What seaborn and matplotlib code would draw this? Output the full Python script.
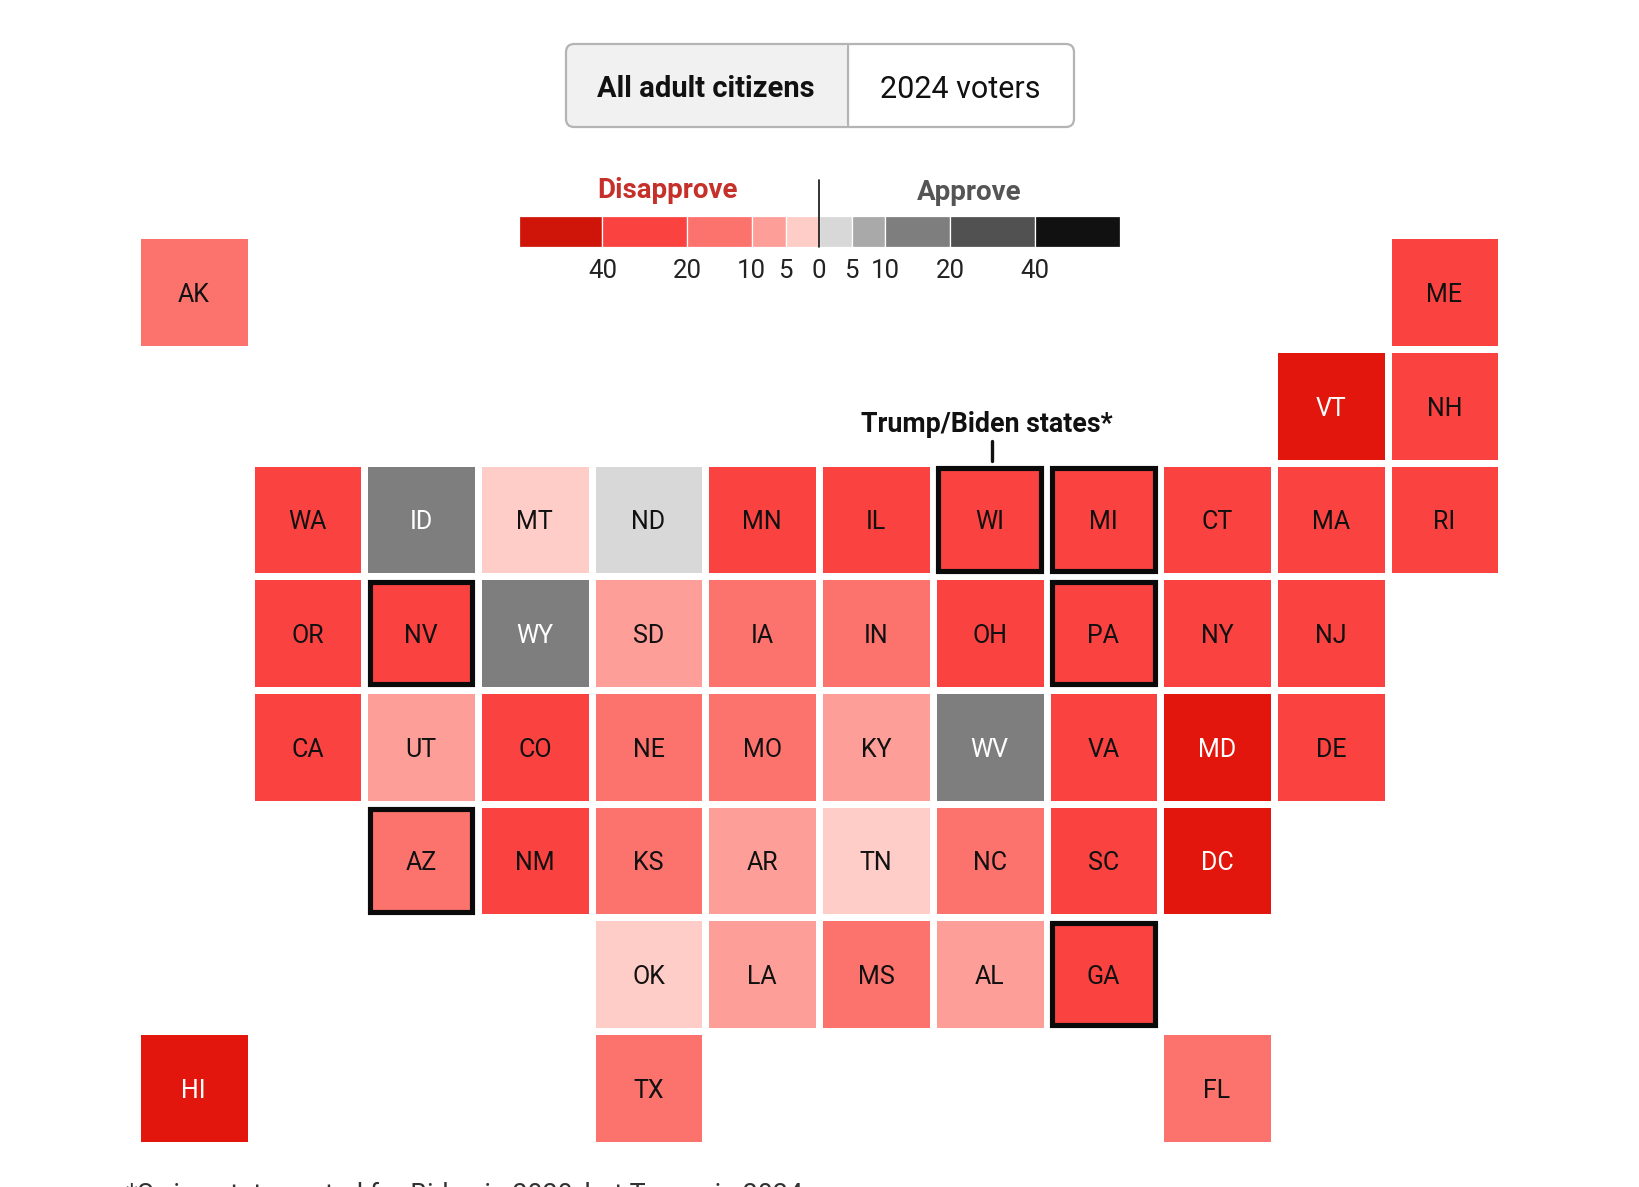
import numpy as np
import pandas as pd
import seaborn as sns
import matplotlib
matplotlib.use("Agg")
import matplotlib.pyplot as plt
from matplotlib.colors import ListedColormap, BoundaryNorm
from matplotlib.patches import FancyBboxPatch, Rectangle
from matplotlib.ticker import NullLocator

W, H = 1640, 1187
sns.set_theme(style="white")
plt.rcParams["font.family"] = ["Roboto", "DejaVu Sans"]

rows = [
    ["AK", "", "", "", "", "", "", "", "", "", "", "ME"],
    ["", "", "", "", "", "", "", "", "", "", "VT", "NH"],
    ["", "WA", "ID", "MT", "ND", "MN", "IL", "WI", "MI", "CT", "MA", "RI"],
    ["", "OR", "NV", "WY", "SD", "IA", "IN", "OH", "PA", "NY", "NJ", ""],
    ["", "CA", "UT", "CO", "NE", "MO", "KY", "WV", "VA", "MD", "DE", ""],
    ["", "", "AZ", "NM", "KS", "AR", "TN", "NC", "SC", "DC", "", ""],
    ["", "", "", "", "OK", "LA", "MS", "AL", "GA", "", "", ""],
    ["HI", "", "", "", "TX", "", "", "", "", "FL", "", ""],
]
# net approval per state, estimated from its colour bin
dis_over_40 = ["VT", "MD", "DC", "HI"]
dis_20_40 = ["ME", "NH", "WA", "MN", "IL", "WI", "MI", "CT", "MA", "RI", "OR", "NV", "OH", "PA",
             "NY", "NJ", "CA", "CO", "VA", "DE", "NM", "SC", "GA"]
dis_10_20 = ["AK", "IA", "IN", "NE", "MO", "KS", "NC", "MS", "TX", "AZ", "FL"]
dis_5_10 = ["SD", "UT", "KY", "AR", "LA", "AL"]
dis_0_5 = ["MT", "TN", "OK"]
app_0_5 = ["ND"]
app_10_20 = ["ID", "WY", "WV"]
swing = ["WI", "MI", "NV", "PA", "AZ", "GA"]

margin = {}
for group, value in [(dis_over_40, -50), (dis_20_40, -30), (dis_10_20, -15), (dis_5_10, -7),
                     (dis_0_5, -3), (app_0_5, 3), (app_10_20, 15)]:
    for s in group:
        margin[s] = value

legend_stops = [-60, -40, -20, -10, -5, 0, 5, 10, 20, 40, 60]
legend_colors = ["#cf1409", "#fa4240", "#fc726d", "#fd9e98", "#fecdc7",
                 "#d8d8d8", "#a9a9a9", "#7e7e7e", "#515151", "#111111"]
map_colors = ["#e2160d"] + legend_colors[1:]
legend_ticks = [-40, -20, -10, -5, 0, 5, 10, 20, 40]
legend_pos = [519.6, 602.9, 687.8, 752, 785.7, 819, 851.8, 885, 950, 1035, 1119.6]

labels = pd.DataFrame(rows)
values = labels.map(lambda s: margin.get(s, np.nan))

fig = plt.figure(figsize=(W / 100, H / 100), dpi=100, facecolor="white")

def axes_px(l, t, r, b):
    return fig.add_axes([l / W, 1 - b / H, (r - l) / W, (b - t) / H])

pitch = 113.7
ax = axes_px(136.9, 235.2, 136.9 + 12 * pitch, 235.2 + 8 * pitch)
sns.heatmap(values, ax=ax, cmap=ListedColormap(map_colors), norm=BoundaryNorm(legend_stops, 10),
            cbar=False, linewidths=3.9, linecolor="white", xticklabels=False, yticklabels=False)
ax.set_xlabel("")
ax.set_ylabel("")
light_text = {"VT", "MD", "DC", "HI", "ID", "WY", "WV"}
for i, row in enumerate(rows):
    for j, s in enumerate(row):
        if not s:
            continue
        ax.text(j + 0.5, i + 0.525, s, ha="center", va="center", fontsize=18,
                color="white" if s in light_text else "#111111")
        if s in swing:
            inset = 0.05
            ax.add_patch(Rectangle((j + inset, i + inset), 1 - 2 * inset, 1 - 2 * inset,
                                   fill=False, ec="#0a0a0a", lw=3.7, joinstyle="miter", zorder=5))

# legend
lax = axes_px(519.0, 216.2, 1120.0, 247.0)
fwd = lambda v: np.interp(v, legend_stops, legend_pos)
inv = lambda p: np.interp(p, legend_pos, legend_stops)
lax.set_xscale("function", functions=(fwd, inv))
lax.set_xlim(-60, 60)
lax.set_ylim(0, 1)
for lo, hi, c in zip(legend_stops[:-1], legend_stops[1:], legend_colors):
    lax.barh(0.5, hi - lo, left=lo, height=1, color=c, edgecolor="white", linewidth=0.9)
lax.set_yticks([])
lax.set_xticks(legend_ticks)
lax.set_xticklabels([str(abs(t)) for t in legend_ticks], fontsize=18.5, color="#222222")
lax.xaxis.set_minor_locator(NullLocator())
lax.tick_params(axis="x", length=0, pad=9)
sns.despine(ax=lax, left=True, bottom=True)

def tx(x, y, s, **kw):
    fig.text(x / W, 1 - y / H, s, ha=kw.pop("ha", "center"), va=kw.pop("va", "center"), **kw)

def px_line(x0, y0, x1, y1, **kw):
    fig.add_artist(plt.Line2D([x0 / W, x1 / W], [1 - y0 / H, 1 - y1 / H], **kw))

px_line(819, 180, 819, 247, color="#111111", lw=1.2, zorder=10)
tx(668, 191, "Disapprove", fontsize=20, fontweight="bold", color="#c6302a")
tx(969, 192, "Approve", fontsize=20, fontweight="bold", color="#555555")
tx(987, 424, "Trump/Biden states*", fontsize=19.3, fontweight="bold", color="#111111")
px_line(992, 441, 992, 461, color="#111111", lw=2.4)

# toggle
def toggle_box(w, fc, ec, lw):
    return FancyBboxPatch((566 / W, 1 - 127 / H), w / W, 83 / H,
                          boxstyle="round,pad=0,rounding_size=0.005",
                          transform=fig.transFigure, fc=fc, ec=ec, lw=lw, mutation_aspect=W / H)

fig.add_artist(toggle_box(508, "white", "none", 0))
fig.add_artist(toggle_box(282, "#f1f1f1", "none", 0))
px_line(848, 44, 848, 127, color="#b4b4b4", lw=1.6)
fig.add_artist(toggle_box(508, "none", "#b4b4b4", 1.6))
tx(706, 89, "All adult citizens", fontsize=21, fontweight="bold", color="#111111")
tx(960, 89, "2024 voters", fontsize=22, color="#111111")

tx(126, 1195, "*Swing states voted for Biden in 2020, but Trump in 2024", ha="left", fontsize=19.3, color="#333333")

fig.savefig("out.png", dpi=100)
